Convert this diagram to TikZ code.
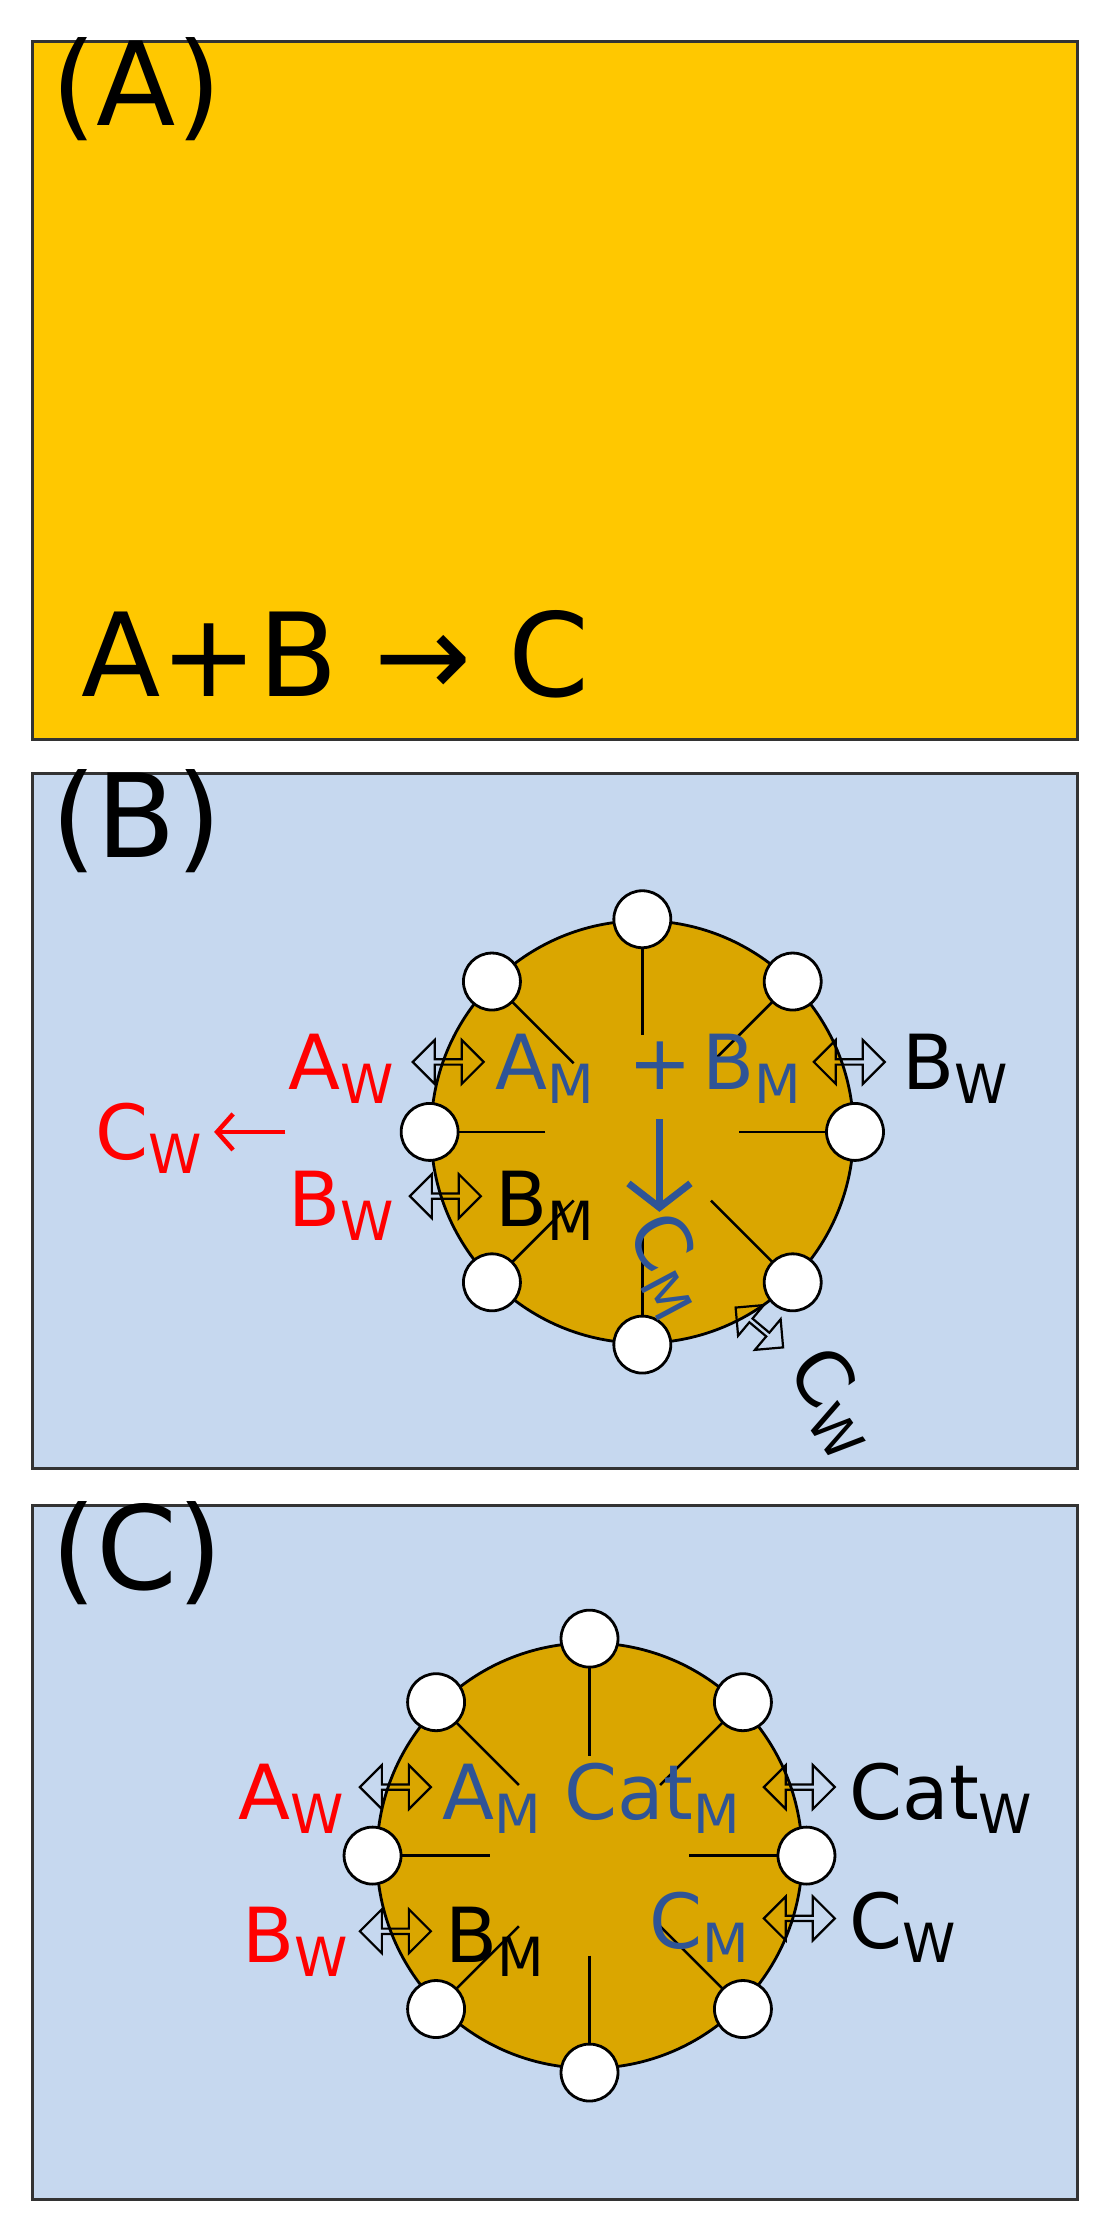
\documentclass[tikz,border=0pt]{standalone}
\usepackage{fontspec}
\setmainfont{DejaVu Sans}
\usetikzlibrary{shapes.arrows,arrows.meta,calc}
\definecolor{panA}{HTML}{FFC800}
\definecolor{panB}{HTML}{C6D8EF}
\definecolor{cell}{HTML}{DAA600}
\definecolor{mblue}{HTML}{2F5496}
\definecolor{mred}{HTML}{FF0000}
\newcommand\sbw[1]{\raisebox{-14pt}{\fontsize{54}{54}\selectfont #1}}
\tikzset{
 panel/.style={draw=black!80,line width=3pt},
 big/.style={font=\fontsize{116}{116}\selectfont,inner sep=0pt},
 lab/.style={font=\fontsize{76}{76}\selectfont,inner sep=0pt,anchor=base west},
 dbl/.style={double arrow,draw=black,line width=2.2pt,minimum height=71pt,minimum width=44pt,double arrow head extend=8pt,inner sep=0pt,double arrow head indent=0pt},
 pore/.style={circle,draw=black,fill=white,line width=2.8pt,minimum size=57pt,inner sep=0pt},
 spoke/.style={line width=2.6pt}
}
\begin{document}
\begin{tikzpicture}[x=1.428pt,y=-1.428pt]
\useasboundingbox (0,0) rectangle (776,1556);
% Panel A
\node[panel,fill=panA,minimum width=732*1.428pt,minimum height=489*1.428pt,anchor=north west,inner sep=0pt] (pA) at (22,28) {};
\node[big,anchor=north west] (tA) at (36,26) {(A)};
\node[big,anchor=base west] (rx) at (57,488) {A+B → C};
% Panel B
\node[panel,fill=panB,minimum width=732*1.428pt,minimum height=487*1.428pt,anchor=north west,inner sep=0pt] (pB) at (22,541) {};
\node[big,anchor=north west] (tB) at (36,539) {(B)};
\node[draw=black,line width=2.8pt,fill=cell,circle,minimum size=296*1.428pt,inner sep=0pt] (cB) at (450,793) {};
\foreach \a in {0,45,...,315}{
  \draw[spoke] ($(cB.center)+(\a:68)$) -- ($(cB.center)+(\a:133)$);
}
\foreach \a/\n in {90/t,45/tr,0/r,-45/br,-90/b,-135/bl,180/l,135/tl}{
  \node[pore] (B\n) at ($(cB.center)+(\a:149)$) {};
}
\node[lab,text=mred] (BAw) at (202,763) {A\sbw{W}};
\node[dbl] (Bd1) at (314,744) {};
\node[lab,text=mblue] (BAm) at (347,763) {A\sbw{M}};
\node[lab,text=mblue] (Bplus) at (440,763) {+};
\node[lab,text=mblue] (BBm) at (492,763) {B\sbw{M}};
\node[dbl] (Bd2) at (595,744) {};
\node[lab] (BBw) at (632,763) {B\sbw{W}};
\node[lab,text=mred] (BCw) at (67,812) {C\sbw{W}};
\coordinate (ra1) at (200,793);
\coordinate (ra2) at (150,793);
\draw[mred,line width=4.5pt,-{Straight Barb[length=16pt,width=36pt]}] (ra1) -- (ra2);
\node[lab,text=mred] (BBw2) at (202,859) {B\sbw{W}};
\node[dbl] (Bd3) at (312,838) {};
\node[lab] (BBm2) at (347,859) {B\sbw{M}};
\coordinate (ba1) at (462,784);
\coordinate (ba2) at (462,849);
\draw[mblue,line width=7pt,-{Straight Barb[length=24pt,width=62pt]}] (ba1) -- (ba2);
\node[font=\fontsize{76}{76}\selectfont,text=mblue,inner sep=0pt,rotate=-62] (BCm) at (468,886) {C\sbw{M}};
\node[dbl,rotate=-40,minimum height=62pt,minimum width=40pt,double arrow head extend=8pt] (Bd4) at (532,930) {};
\node[font=\fontsize{76}{76}\selectfont,inner sep=0pt,rotate=-55] (BCw2) at (584,982) {C\sbw{W}};
% Panel C
\node[panel,fill=panB,minimum width=732*1.428pt,minimum height=486*1.428pt,anchor=north west,inner sep=0pt] (pC) at (22,1054) {};
\node[big,anchor=north west] (tC) at (36,1052) {(C)};
\node[draw=black,line width=2.8pt,fill=cell,circle,minimum size=298*1.428pt,inner sep=0pt] (cC) at (413,1300) {};
\foreach \a in {0,45,...,315}{
  \draw[spoke] ($(cC.center)+(\a:70)$) -- ($(cC.center)+(\a:132)$);
}
\foreach \a/\n in {90/t,45/tr,0/r,-45/br,-90/b,-135/bl,180/l,135/tl}{
  \node[pore] (C\n) at ($(cC.center)+(\a:152)$) {};
}
\node[lab,text=mred] (CAw) at (167,1275) {A\sbw{W}};
\node[dbl] (Cd1) at (277,1252) {};
\node[lab,text=mblue] (CAm) at (310,1275) {A\sbw{M}};
\node[lab,text=mblue] (CCat) at (395,1275) {Cat\sbw{M}};
\node[dbl] (Cd2) at (560,1252) {};
\node[lab] (CCatw) at (595,1275) {Cat\sbw{W}};
\node[lab,text=mred] (CBw) at (170,1375) {B\sbw{W}};
\node[dbl] (Cd3) at (277,1353) {};
\node[lab] (CBm) at (312,1375) {B\sbw{M}};
\node[lab,text=mblue] (CCm) at (455,1365) {C\sbw{M}};
\node[dbl] (Cd4) at (560,1344) {};
\node[lab] (CCw) at (595,1365) {C\sbw{W}};
\end{tikzpicture}
\end{document}
